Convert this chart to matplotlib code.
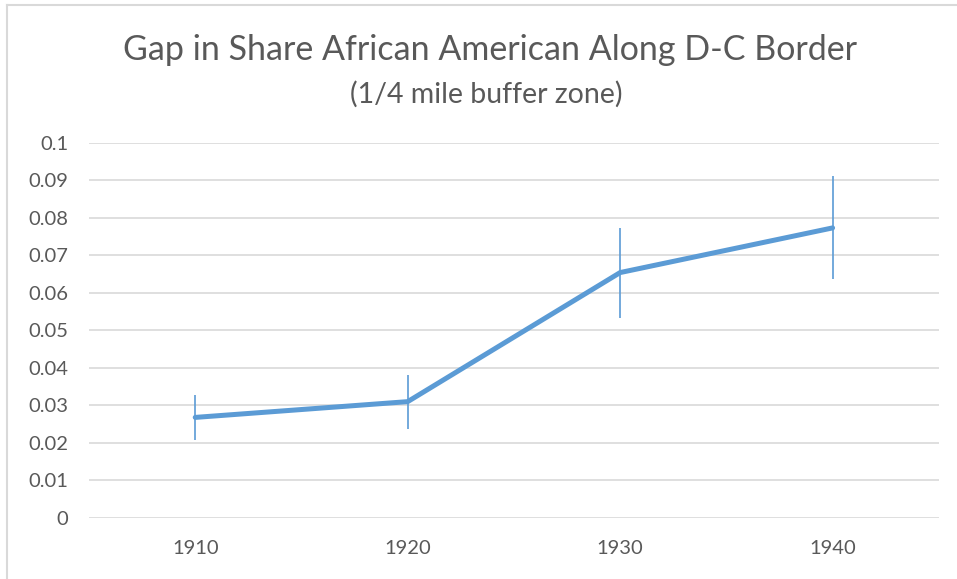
import matplotlib
matplotlib.use("Agg")
import matplotlib.pyplot as plt
from matplotlib.lines import Line2D

years = ["1910", "1920", "1930", "1940"]
gap = [0.0268, 0.0310, 0.0654, 0.0773]
err = [0.0061, 0.0072, 0.0120, 0.0137]
y_ticks = [0, 0.01, 0.02, 0.03, 0.04, 0.05, 0.06, 0.07, 0.08, 0.09, 0.1]

plt.rcParams['font.family'] = ['Lato', 'DejaVu Sans']
text_color = "#595959"
line_color = "#5B9BD5"

fig = plt.figure(figsize=(9.57, 5.79), dpi=100)
ax = fig.add_axes([0.093, 0.1054, 0.888, 0.6481])

x = list(range(len(years)))
ax.errorbar(x, gap, yerr=err, color=line_color, linewidth=3.6,
            elinewidth=1.2, capsize=0, solid_capstyle="round", zorder=3)

ax.set_xlim(-0.5, len(years) - 0.5)
ax.set_ylim(0, 0.1)
ax.set_xticks(x)
ax.set_xticklabels(years)
ax.set_yticks(y_ticks)
ax.set_yticklabels(["0" if v == 0 else f"{v:g}" for v in y_ticks])
ax.grid(axis="y", color="#D9D9D9", linewidth=1.2)
ax.set_axisbelow(True)
for s in ax.spines.values():
    s.set_visible(False)
ax.tick_params(axis="both", length=0, labelsize=14.5, labelcolor=text_color)
ax.tick_params(axis="y", pad=15)
ax.tick_params(axis="x", pad=16)

fig.text(0.5115, 0.913, "Gap in Share African American Along D-C Border",
         ha="center", va="center", fontsize=24.5, color=text_color)
fig.text(0.508, 0.838, "(1/4 mile buffer zone)",
         ha="center", va="center", fontsize=20.5, color=text_color)

# chart area frame (left and top edges visible)
fig.add_artist(Line2D([0.0078, 0.0078], [0, 0.992], transform=fig.transFigure,
                      color="#D9D9D9", linewidth=1.5))
fig.add_artist(Line2D([0.0078, 1], [0.992, 0.992], transform=fig.transFigure,
                      color="#D9D9D9", linewidth=1.5))

fig.savefig("out.png", dpi=100)
